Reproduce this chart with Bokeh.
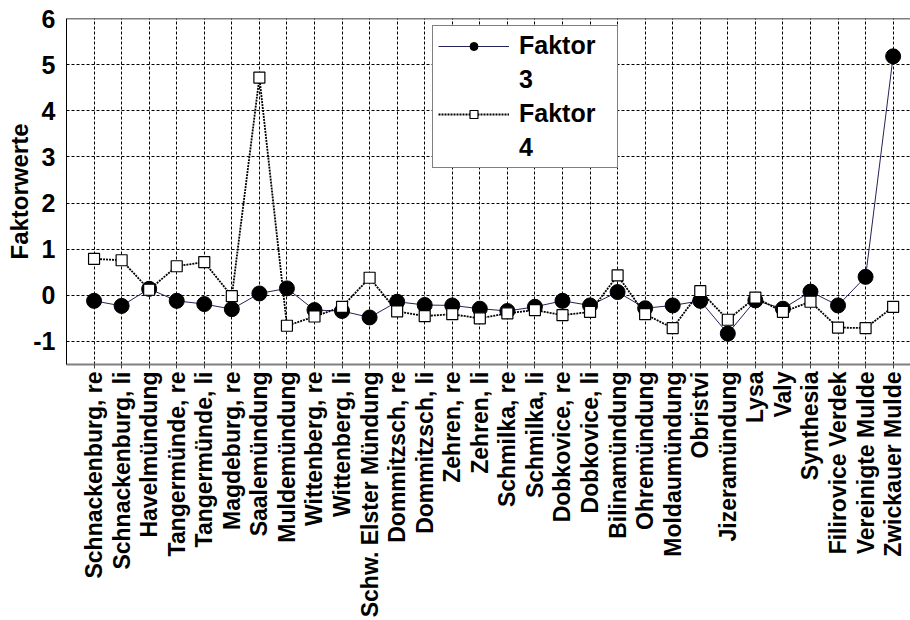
import math
from bokeh.plotting import figure
from bokeh.models import Range1d, FixedTicker, Span, Legend, LegendItem, ColumnDataSource
from bokeh.embed import file_html
from bokeh.resources import INLINE

categories = [
    "Schnackenburg, re", "Schnackenburg, li", "Havelmündung", "Tangermünde, re",
    "Tangermünde, li", "Magdeburg, re", "Saalemündung", "Muldemündung",
    "Wittenberg, re", "Wittenberg, li", "Schw. Elster Mündung", "Dommitzsch, re",
    "Dommitzsch, li", "Zehren, re", "Zehren, li", "Schmilka, re", "Schmilka, li",
    "Dobkovice, re", "Dobkovice, li", "Bilinamündung", "Ohremündung",
    "Moldaumündung", "Obristvi", "Jizeramündung", "Lysa", "Valy", "Synthesia",
    "Filirovice Verdek", "Vereinigte Mulde", "Zwickauer Mulde",
]
faktor3 = [-0.12, -0.23, 0.14, -0.12, -0.19, -0.30, 0.04, 0.15, -0.32, -0.34,
           -0.48, -0.14, -0.21, -0.22, -0.29, -0.34, -0.25, -0.12, -0.22, 0.07,
           -0.28, -0.22, -0.12, -0.83, -0.11, -0.29, 0.08, -0.22, 0.40, 5.18]
faktor4 = [0.79, 0.76, 0.12, 0.63, 0.72, -0.02, 4.72, -0.66, -0.46, -0.25,
           0.38, -0.35, -0.45, -0.41, -0.50, -0.39, -0.32, -0.43, -0.36, 0.43,
           -0.41, -0.71, 0.09, -0.53, -0.05, -0.36, -0.14, -0.70, -0.71, -0.25]
y_ticks = [-1, 0, 1, 2, 3, 4, 5, 6]
y_tick_labels = ["-1", "0", "1", "2", "3", "4", "5", "6"]
legend_lines = [["Faktor", "3"], ["Faktor", "4"]]

FONT = "Liberation Sans"

x = list(range(len(categories)))
src = ColumnDataSource(dict(x=x, f3=faktor3, f4=faktor4))

p = figure(width=910, height=620, output_backend="svg", toolbar_location=None,
           x_range=Range1d(-1, 29.63), y_range=Range1d(-1.5, 6),
           min_border_left=66, min_border_right=0, min_border_top=18,
           min_border_bottom=255)
p.outline_line_color = None
p.background_fill_color = "white"
p.border_fill_color = "white"

# axes
p.xaxis.ticker = FixedTicker(ticks=x)
p.xaxis.major_label_overrides = {i: c for i, c in zip(x, categories)}
p.xaxis.major_label_orientation = math.pi / 2
p.xaxis.major_label_text_font = FONT
p.xaxis.major_label_text_font_style = "bold"
p.xaxis.major_label_text_font_size = "23px"
p.xaxis.major_label_text_color = "black"
p.xaxis.major_label_standoff = 3
p.xaxis.axis_line_color = "#808080"
p.xaxis.axis_line_width = 2
p.xaxis.major_tick_line_color = "#404040"
p.xaxis.major_tick_out = 4
p.xaxis.major_tick_in = 0
p.xaxis.minor_tick_line_color = None

p.yaxis.ticker = FixedTicker(ticks=y_ticks)
p.yaxis.major_label_overrides = {t: s for t, s in zip(y_ticks, y_tick_labels)}
p.yaxis.major_label_text_font = FONT
p.yaxis.major_label_text_font_style = "bold"
p.yaxis.major_label_text_font_size = "25px"
p.yaxis.major_label_text_color = "black"
p.yaxis.major_label_standoff = 11
p.yaxis.axis_line_color = "black"
p.yaxis.major_tick_line_color = None
p.yaxis.major_tick_out = 0
p.yaxis.major_tick_in = 0
p.yaxis.minor_tick_line_color = None
p.yaxis.axis_label = "Faktorwerte"
p.yaxis.axis_label_text_font = FONT
p.yaxis.axis_label_text_font_style = "bold"
p.yaxis.axis_label_text_font_size = "24px"
p.yaxis.axis_label_text_color = "black"
p.yaxis.axis_label_standoff = -3

# grid
for g in (p.xgrid, p.ygrid):
    g.grid_line_color = "black"
    g.grid_line_dash = "3 2"
    g.grid_line_width = 1

p.add_layout(Span(location=6, dimension="width", line_color="black", line_width=1.5))

# series
l3 = p.line("x", "f3", source=src, line_color="#23235a", line_width=1)
m3 = p.scatter("x", "f3", source=src, marker="circle", size=15,
               fill_color="black", line_color="black")
l4 = p.line("x", "f4", source=src, line_color="black", line_width=1.8,
            line_dash="2 1")
m4 = p.scatter("x", "f4", source=src, marker="square", size=11,
               fill_color="white", line_color="black", line_width=1.2)

legend = Legend(items=[LegendItem(label=legend_lines[0][0], renderers=[l3, m3]),
                       LegendItem(label=legend_lines[0][1], renderers=[]),
                       LegendItem(label=legend_lines[1][0], renderers=[l4, m4]),
                       LegendItem(label=legend_lines[1][1], renderers=[])],
                location=(366, 196))
legend.label_text_font = FONT
legend.label_text_font_style = "bold"
legend.label_text_font_size = "25px"
legend.label_text_color = "black"
legend.glyph_width = 71
legend.glyph_height = 20
legend.label_height = 28
legend.label_width = 93
legend.label_standoff = 10
legend.padding = 5
legend.margin = 0
legend.spacing = 5
legend.border_line_color = "black"
legend.border_line_width = 1
legend.background_fill_color = "white"
legend.background_fill_alpha = 1
p.add_layout(legend, "center")

open("out.html", "w").write(file_html(p, INLINE))
